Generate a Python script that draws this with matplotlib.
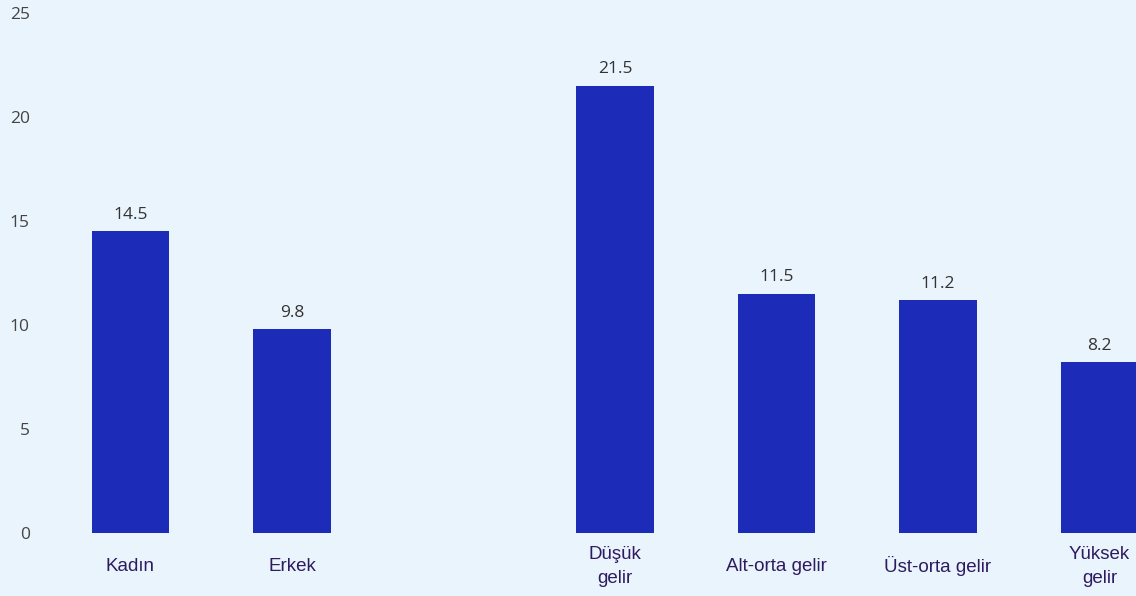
import matplotlib
matplotlib.use("Agg")
import matplotlib.pyplot as plt

categories = ["Kadın", "Erkek", "Düşük\ngelir", "Alt-orta gelir", "Üst-orta gelir", "Yüksek\ngelir"]
positions = [0, 1, 3, 4, 5, 6]
values = [14.5, 9.8, 21.5, 11.5, 11.2, 8.2]
y_ticks = [0, 5, 10, 15, 20, 25]

BG = "#eaf4fc"
BAR = "#1c2bb8"

fig = plt.figure(figsize=(11.36, 5.96), dpi=100, facecolor=BG)
# zero line sits at 533 px from the top, so the axes starts there
ax = fig.add_axes([0, 63 / 596, 1, 533 / 596])
ax.set_facecolor(BG)

bars = ax.bar(positions, values, width=0.48, color=BAR)
for b, v in zip(bars, values):
    ax.annotate(f"{v:.1f}", (b.get_x() + b.get_width() / 2, v),
                xytext=(0, 6), textcoords="offset points",
                ha="center", va="bottom", fontsize=12.5,
                family="Open Sans", color="#333333")

ax.set_xlim(-0.808, 6.226)
ax.set_ylim(0, 25.625)

ax.set_yticks(y_ticks)
ax.set_yticklabels([str(t) for t in y_ticks], family="Open Sans",
                   fontsize=12.5, color="#444444")
ax.tick_params(axis="y", length=0, pad=-21.5)
for lbl in ax.get_yticklabels():
    lbl.set_horizontalalignment("right")

# category names centred under each bar
ax.set_xticks([])
for x, name in zip(positions, categories):
    ax.annotate(name, (x, 0), xytext=(0, -24), textcoords="offset points",
                ha="center", va="center", fontsize=13.5,
                family="Liberation Sans", color="#2e1a60",
                linespacing=1.5, annotation_clip=False)

for s in ax.spines.values():
    s.set_visible(False)

fig.savefig("out.png", dpi=100, facecolor=BG)
